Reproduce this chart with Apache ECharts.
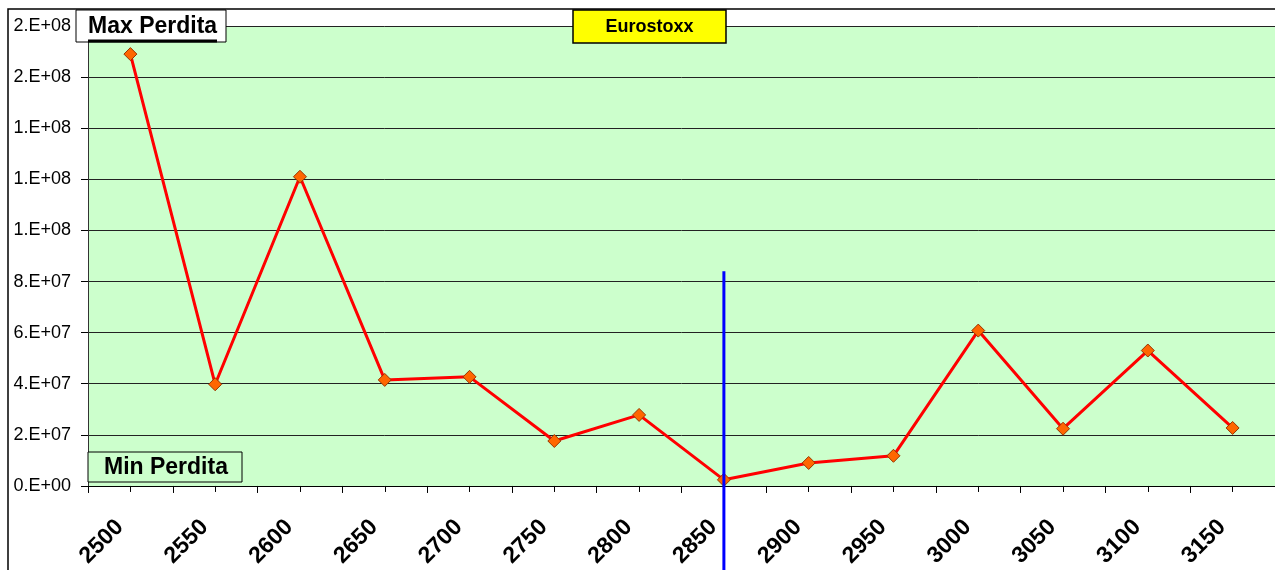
<!DOCTYPE html>
<html>
<head>
<meta charset="utf-8">
<script src="https://cdn.jsdelivr.net/npm/echarts@6/dist/echarts.min.js"></script>
<style>
html,body{margin:0;padding:0;background:#fff}
#chart{width:1275px;height:570px}
</style>
</head>
<body>
<div id="chart"></div>
<script>
// strike prices on the x axis
var strikes = ['2500','2550','2600','2650','2700','2750','2800','2850','2900','2950','3000','3050','3100','3150'];
// perdita per strike
var perdita = [1.69e8, 3.98e7, 1.21e8, 4.15e7, 4.27e7, 1.76e7, 2.78e7, 2.4e6, 9.0e6, 1.18e7, 6.08e7, 2.24e7, 5.3e7, 2.27e7];
// y tick labels, as excel prints them
var yTickLabels = ['0.E+00','2.E+07','4.E+07','6.E+07','8.E+07','1.E+08','1.E+08','1.E+08','2.E+08','2.E+08'];
// vertical blue line (current level)
var spotStrike = '2850';
var spotRange = [8.4e7, -3.6e7];

var font = '"Liberation Sans", Arial, sans-serif';

var myChart = echarts.init(document.getElementById('chart'));
var option = {
	backgroundColor: '#fff',
	animation: false,
	grid: {
		left: 88, top: 26, right: 0, bottom: 84,
		show: true,
		backgroundColor: '#ccffcc',
		borderWidth: 0
	},
	xAxis: [{
		type: 'category',
		data: strikes,
		boundaryGap: true,
		axisLine: { lineStyle: { color: '#000', width: 1 } },
		axisTick: { show: true, interval: 0, length: 7, lineStyle: { color: '#000' } },
		axisLabel: {
			interval: 0,
			rotate: 45,
			margin: 27,
			padding: [0, 15, 0, 0],
			color: '#000',
			fontFamily: font,
			fontWeight: 'bold',
			fontSize: 23
		},
		splitLine: { show: false }
	}, {
		// second axis only for the ticks at the category centres
		type: 'category',
		data: strikes,
		position: 'bottom',
		axisLine: { show: false },
		axisTick: { show: true, alignWithLabel: true, interval: 0, length: 6, lineStyle: { color: '#000' } },
		axisLabel: { show: false },
		splitLine: { show: false }
	}],
	yAxis: {
		type: 'value',
		min: 0,
		max: 1.8e8,
		interval: 2e7,
		axisLine: { show: true, lineStyle: { color: '#333', width: 1 } },
		axisTick: { show: true, length: 7, lineStyle: { color: '#000' } },
		axisLabel: {
			margin: 17,
			color: '#000',
			fontFamily: font,
			fontSize: 18,
			formatter: function (v) {
				return yTickLabels[Math.round(v / 2e7)];
			}
		},
		splitLine: { show: true, lineStyle: { color: '#222', width: 1 } }
	},
	series: [{
		name: 'Perdita',
		type: 'line',
		data: perdita,
		symbol: 'diamond',
		symbolSize: 13,
		lineStyle: { color: '#ff0000', width: 3 },
		itemStyle: { color: '#ff6600', borderColor: '#993300', borderWidth: 1 },
		z: 3
	}, {
		// blue vertical line, runs below the axis like in the excel sheet
		name: 'Spot',
		type: 'custom',
		clip: false,
		silent: true,
		z: 4,
		data: [[spotStrike, spotRange[0], spotRange[1]]],
		renderItem: function (params, api) {
			var p0 = api.coord([api.value(0), api.value(1)]);
			var p1 = api.coord([api.value(0), api.value(2)]);
			return {
				type: 'line',
				shape: { x1: p0[0], y1: p0[1], x2: p1[0], y2: p1[1] },
				style: { stroke: '#0000ff', lineWidth: 3 }
			};
		}
	}],
	graphic: [
		// outer chart frame
		{ type: 'rect', shape: { x: 8, y: 9, width: 1300, height: 600 },
		  style: { fill: 'none', stroke: '#000', lineWidth: 1.5 }, z: 1 },
		// Max Perdita box
		{ type: 'rect', shape: { x: 76, y: 10, width: 150, height: 32 },
		  style: { fill: '#fff', stroke: '#000', lineWidth: 1 }, z: 10 },
		{ type: 'text', x: 88, y: 15, z: 11,
		  style: { text: 'Max Perdita', fill: '#000', font: 'bold 23px ' + font } },
		{ type: 'line', shape: { x1: 88, y1: 41, x2: 217, y2: 41 },
		  style: { stroke: '#000', lineWidth: 3 }, z: 11 },
		// Min Perdita box
		{ type: 'rect', shape: { x: 88, y: 452, width: 154, height: 30 },
		  style: { fill: '#ccffcc', stroke: '#000', lineWidth: 1 }, z: 10 },
		{ type: 'text', x: 104, y: 456, z: 11,
		  style: { text: 'Min Perdita', fill: '#000', font: 'bold 23px ' + font } },
		// Eurostoxx label
		{ type: 'rect', shape: { x: 573, y: 10, width: 153, height: 33 },
		  style: { fill: '#ffff00', stroke: '#000', lineWidth: 1.5 }, z: 10 },
		{ type: 'text', x: 649.5, y: 27, z: 11,
		  style: { text: 'Eurostoxx', fill: '#000', font: 'bold 18px ' + font, align: 'center', verticalAlign: 'middle' } }
	]
};
myChart.setOption(option);
</script>
</body>
</html>
